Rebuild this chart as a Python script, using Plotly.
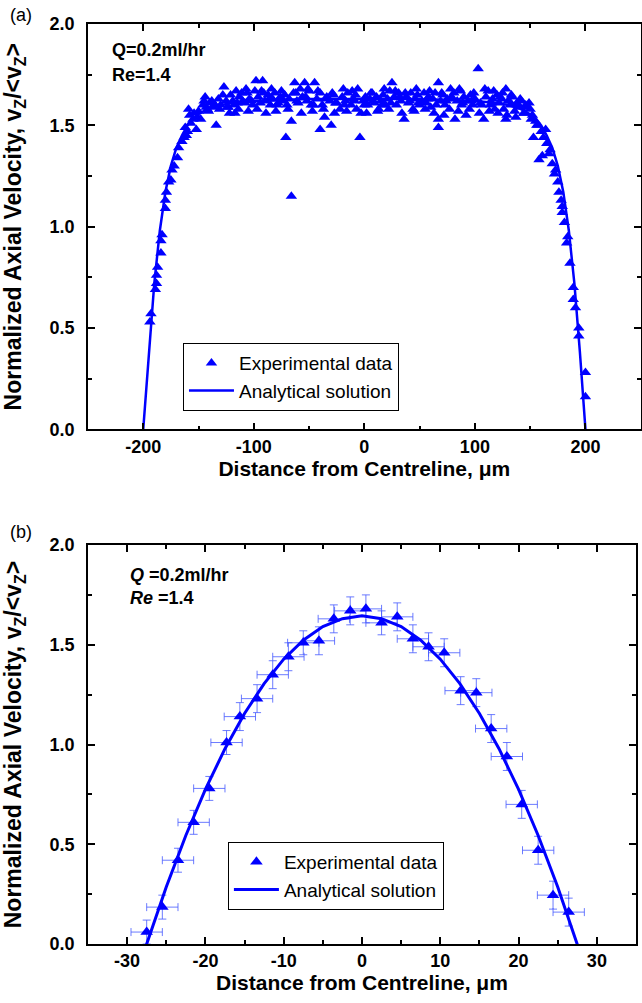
import plotly.graph_objects as go

# ---- panel (a): Q=0.2ml/hr, full channel ----
a_exp_x = [-194, -193, -189, -188, -188, -187, -184, -184, -183, -180, -180, -179, -177, -175, -174, -172,
           -169, -168, -165, -163, -162, -160, -157, -158, -152, -155, -148, -150, -159, -146, -144, -142,
           -140, -138, -134, -135, -132, -130, -127, -125, -123, -121, -119, -117, -115, -113, -110, -108,
           -106, -104, -101, -98, -96, -93, -92, -90, -87, -85, -83, -81, -78, -76, -73, -71, -70, -68,
           -66, -66, -64, -63, -61, -58, -56, -54, -52, -50, -48, -45, -43, -40, -40, -38, -36, -34,
           -31, -30, -28, -25, -22, -20, -17, -15, -12, -10, -8, -6, -4, -3, -1, 1, 3, 5, 7, 9, 11, 13,
           15, 17, 19, 21, 23, 25, 27, 29, 31, 33, 36, 38, 40, 42, 44, 46, 48, 50, 52, 54, 56, 58, 60,
           62, 64, 67, 67, 67, 69, 71, 73, 75, 77, 79, 82, 84, 86, 88, 90, 92, 94, 96, 98, 100, 103,
           105, 108, 110, 112, 114, 116, 118, 120, 122, 124, 126, 128, 128, 130, 132, 134, 136, 138,
           140, 142, 144, 146, 149, 150, 152, 153, 155, 157, 158, 160, 161, 162, 164, 165, 167, 168,
           170, 172, 173, 175, 176, 178, 179, 179, 181, 183, 184, 186, 189, 189, 191, 194, 194, 200, 200,
           -145, -137, -128, -118, -111, -102, -94, -86, -79, -72, -60, -53, -46, -35, -26, -18, -9, 0,
           8, 16, 24, 32, 41, 49, 57, 65, 74, 81, 89, 97, 106, 115, 123, 131, 139, 147, -154, -161,
           -141, -131, -122, -114, -105, -97, -89, -80, -69, -57, -47, -37, -27, -16, -7, 2, 12, 22,
           34, 45, 55, 63, 72, 85, 95, 104, 113, 121, 129, 137, 145, 151, -151, -143, -136, -124,
           -116, -107, -99, -91, -84, -75, -62, -51, -42, -29, -19, -11, 6, 18, 28, 37, 47, 59, 70, 78,
           87, 99, 109, 117, 125, 133, 141, 156]
a_exp_y = [0.53, 0.57, 0.69, 0.72, 0.76, 0.80, 0.87, 0.93, 0.96, 1.09, 1.13, 1.17, 1.22, 1.23, 1.28, 1.30,
           1.34, 1.39, 1.42, 1.44, 1.49, 1.47, 1.51, 1.55, 1.48, 1.53, 1.53, 1.57, 1.58, 1.60, 1.64, 1.58,
           1.61, 1.62, 1.50, 1.60, 1.63, 1.60, 1.69, 1.62, 1.59, 1.65, 1.62, 1.56, 1.61, 1.64, 1.62, 1.61,
           1.66, 1.63, 1.60, 1.72, 1.64, 1.67, 1.72, 1.62, 1.65, 1.60, 1.63, 1.66, 1.61, 1.64, 1.62, 1.44, 1.60, 1.63,
           1.52, 1.15, 1.66, 1.71, 1.62, 1.68, 1.64, 1.71, 1.62, 1.67, 1.60, 1.71, 1.63, 1.48, 1.66, 1.60, 1.54, 1.64,
           1.62, 1.50, 1.65, 1.61, 1.58, 1.64, 1.62, 1.66, 1.60, 1.63, 1.65, 1.68, 1.44, 1.56, 1.62, 1.64, 1.60, 1.63, 1.66, 1.61, 1.64, 1.58,
           1.62, 1.65, 1.60, 1.63, 1.67, 1.71, 1.64, 1.60, 1.66, 1.62, 1.53, 1.64, 1.61, 1.66, 1.58, 1.63, 1.65, 1.60, 1.62, 1.66, 1.61, 1.64, 1.59,
           1.63, 1.66, 1.71, 1.53, 1.49, 1.62, 1.65, 1.60, 1.63, 1.58, 1.64, 1.53, 1.62, 1.68, 1.60, 1.64, 1.55, 1.62, 1.65, 1.60, 1.63, 1.78,
           1.61, 1.53, 1.64, 1.67, 1.60, 1.63, 1.58, 1.65, 1.61, 1.63, 1.58, 1.68, 1.53, 1.62, 1.60, 1.64, 1.57, 1.61,
           1.59, 1.62, 1.56, 1.60, 1.61, 1.58, 1.55, 1.44, 1.52, 1.50, 1.33, 1.47, 1.35, 1.44, 1.48, 1.41, 1.36, 1.38,
           1.31, 1.26, 1.28, 1.22, 1.17, 1.13, 1.10, 1.07, 1.02, 0.92, 0.95, 0.82, 0.70, 0.64, 0.60, 0.50, 0.46, 0.28, 0.16,
           1.62, 1.59, 1.65, 1.60, 1.66, 1.62, 1.61, 1.63, 1.60, 1.65, 1.61, 1.64, 1.60, 1.63, 1.61, 1.60, 1.62, 1.60,
           1.62, 1.60, 1.61, 1.64, 1.62, 1.61, 1.63, 1.60, 1.62, 1.66, 1.61, 1.62, 1.60, 1.61, 1.64, 1.62, 1.60, 1.59, 1.56, 1.45,
           1.57, 1.58, 1.56, 1.58, 1.57, 1.58, 1.56, 1.57, 1.58, 1.56, 1.57, 1.58, 1.56, 1.57, 1.58, 1.56, 1.57, 1.58,
           1.56, 1.57, 1.58, 1.56, 1.55, 1.57, 1.58, 1.56, 1.57, 1.56, 1.55, 1.54, 1.56, 1.53, 1.54, 1.59, 1.60, 1.59,
           1.67, 1.68, 1.67, 1.66, 1.68, 1.67, 1.66, 1.68, 1.67, 1.66, 1.68, 1.67, 1.66, 1.68, 1.67, 1.66, 1.68, 1.67, 1.66, 1.68,
           1.67, 1.66, 1.68, 1.67, 1.66, 1.65, 1.63, 1.50]
a_fit_x = [-200, -195, -190, -185, -180, -175, -170, -165, -160, -155, -150, -140, -130, -120, -100, -80, -50,
           0, 50, 80, 100, 120, 130, 140, 150, 155, 160, 165, 170, 175, 180, 185, 190, 195, 200]
a_fit_y = [0.0, 0.38, 0.72, 0.98, 1.17, 1.30, 1.39, 1.45, 1.50, 1.53, 1.555, 1.585, 1.60, 1.61, 1.62, 1.625, 1.63,
           1.63, 1.63, 1.625, 1.62, 1.61, 1.60, 1.585, 1.555, 1.53, 1.50, 1.45, 1.39, 1.30, 1.17, 0.98, 0.72, 0.38, 0.0]
a_xticks = [-200, -100, 0, 100, 200]
a_xtick_labels = ['-200', '-100', '0', '100', '200']

# ---- panel (b): Q=0.2ml/hr, with error bars ----
b_exp_x = [-27.5, -25.5, -23.5, -21.5, -19.5, -17.3, -15.6, -13.4, -11.4, -9.4, -7.5, -5.5, -3.6, -1.5,
           0.5, 2.5, 4.5, 6.5, 8.5, 10.5, 12.6, 14.6, 16.5, 18.5, 20.4, 22.5, 24.4, 26.4]
b_exp_y = [0.06, 0.185, 0.42, 0.61, 0.78, 1.01, 1.14, 1.23, 1.35, 1.44, 1.51, 1.52, 1.63, 1.67,
           1.68, 1.61, 1.64, 1.53, 1.49, 1.46, 1.27, 1.26, 1.08, 0.94, 0.70, 0.47, 0.245, 0.16]
b_err_x = [2.0, 2.0, 2.0, 2.0, 2.0, 2.0, 2.0, 2.0, 2.0, 2.0, 2.0, 2.0, 2.0, 2.0,
           2.0, 2.0, 2.0, 2.0, 2.0, 2.0, 2.0, 2.0, 2.0, 2.0, 2.0, 2.0, 2.0, 2.0]
b_err_y = [0.06, 0.06, 0.06, 0.06, 0.06, 0.06, 0.07, 0.07, 0.07, 0.07, 0.06, 0.07, 0.07, 0.07,
           0.07, 0.06, 0.07, 0.07, 0.07, 0.07, 0.07, 0.07, 0.07, 0.07, 0.07, 0.07, 0.07, 0.07]
b_fit_x = [-28, -27.5, -25, -22.5, -20, -17.5, -15, -12.5, -10, -7.5, -5, -2.5, 0,
           2.5, 5, 7.5, 10, 12.5, 15, 17.5, 20, 22.5, 25, 27.5, 28]
b_fit_y = [-0.06, 0.0, 0.286, 0.544, 0.775, 0.979, 1.156, 1.305, 1.428, 1.523, 1.591, 1.631, 1.645,
           1.631, 1.591, 1.523, 1.428, 1.305, 1.156, 0.979, 0.775, 0.544, 0.286, 0.0, -0.06]
b_xticks = [-30, -20, -10, 0, 10, 20, 30]
b_xtick_labels = ['-30', '-20', '-10', '0', '10', '20', '30']

y_ticks = [0, 0.5, 1.0, 1.5, 2.0]
y_tick_labels = ['0.0', '0.5', '1.0', '1.5', '2.0']

blue = '#0000ff'
font = 'Arial, Liberation Sans, sans-serif'
ytitle = '<b>Normalized Axial Velocity, v<sub>Z</sub>/&lt;v<sub>Z</sub>&gt;</b>'
xtitle = '<b>Distance from Centreline, \u03bcm</b>'


def bold(labels):
    return ['<b>%s</b>' % t for t in labels]


fig = go.Figure()

fig.add_trace(go.Scatter(x=a_exp_x, y=a_exp_y, mode='markers', name='Experimental data',
                         marker=dict(symbol='triangle-up', size=10, color=blue),
                         xaxis='x', yaxis='y', legend='legend'))
fig.add_trace(go.Scatter(x=a_fit_x, y=a_fit_y, mode='lines', name='Analytical solution',
                         line=dict(color=blue, width=2.5),
                         xaxis='x', yaxis='y', legend='legend'))

fig.add_trace(go.Scatter(x=b_exp_x, y=b_exp_y, mode='markers', name='Experimental data',
                         marker=dict(symbol='triangle-up', size=11, color=blue),
                         error_x=dict(type='data', array=b_err_x, color='rgba(70,90,255,0.8)', thickness=1, width=4),
                         error_y=dict(type='data', array=b_err_y, color='rgba(70,90,255,0.8)', thickness=1, width=4),
                         xaxis='x2', yaxis='y2', legend='legend2'))
fig.add_trace(go.Scatter(x=b_fit_x, y=b_fit_y, mode='lines', name='Analytical solution',
                         line=dict(color=blue, width=3),
                         xaxis='x2', yaxis='y2', legend='legend2'))

axis_common = dict(showline=True, linecolor='black', linewidth=1.5, mirror='ticks',
                   ticks='inside', ticklen=7, tickwidth=1.5, tickcolor='black',
                   showgrid=False, zeroline=False, automargin=False,
                   tickfont=dict(family=font, size=18, color='black'))
ytitle_font = dict(family=font, size=23, color='black')
xtitle_font = dict(family=font, size=21, color='black')

fig.update_layout(
    width=642, height=1003,
    margin=dict(l=0, r=0, t=0, b=0),
    plot_bgcolor='white', paper_bgcolor='white',
    font=dict(family=font, color='black'),
    xaxis=dict(domain=[0.137, 0.998], anchor='y', range=[-250, 250],
               tickvals=a_xticks, ticktext=bold(a_xtick_labels),
               minor=dict(dtick=50, ticklen=4, tickwidth=1.5, ticks='inside', tickcolor='black'),
               title=dict(text=xtitle, font=xtitle_font, standoff=4), **axis_common),
    yaxis=dict(domain=[0.572, 0.976], anchor='x', range=[0, 2],
               tickvals=y_ticks, ticktext=bold(y_tick_labels), ticklabelstandoff=8,
               minor=dict(dtick=0.25, ticklen=4, tickwidth=1.5, ticks='inside', tickcolor='black'),
               title=dict(text=ytitle, font=ytitle_font, standoff=22), **axis_common),
    xaxis2=dict(domain=[0.137, 0.9907], anchor='y2', range=[-35, 35],
                tickvals=b_xticks, ticktext=bold(b_xtick_labels),
                minor=dict(dtick=5, ticklen=4, tickwidth=1.5, ticks='inside', tickcolor='black'),
                title=dict(text=xtitle, font=xtitle_font, standoff=4), **axis_common),
    yaxis2=dict(domain=[0.0588, 0.4566], anchor='x2', range=[0, 2],
                tickvals=y_ticks, ticktext=bold(y_tick_labels), ticklabelstandoff=8,
                minor=dict(dtick=0.25, ticklen=4, tickwidth=1.5, ticks='inside', tickcolor='black'),
                title=dict(text=ytitle, font=ytitle_font, standoff=22), **axis_common),
    legend=dict(x=0.285, y=0.658, xanchor='left', yanchor='top', bordercolor='black', borderwidth=1,
                bgcolor='white', font=dict(family=font, size=19), tracegroupgap=0, itemwidth=45),
    legend2=dict(x=0.355, y=0.1605, xanchor='left', yanchor='top', bordercolor='black', borderwidth=1,
                 bgcolor='white', font=dict(family=font, size=19), tracegroupgap=0, itemwidth=45),
    showlegend=True,
)

ann = [
    dict(text='(a)', x=0.012, y=1 - 15 / 1003),
    dict(text='(b)', x=0.012, y=1 - 532 / 1003),
    dict(text='<b>Q=0.2ml/hr</b>', x=110 / 642, y=1 - 50 / 1003),
    dict(text='<b>Re=1.4</b>', x=110 / 642, y=1 - 75 / 1003),
    dict(text='<b><i>Q</i> =0.2ml/hr</b>', x=128 / 642, y=1 - 575 / 1003),
    dict(text='<b><i>Re</i> =1.4</b>', x=128 / 642, y=1 - 598 / 1003),
]
for a in ann:
    fig.add_annotation(text=a['text'], x=a['x'], y=a['y'], xref='paper', yref='paper', showarrow=False,
                       xanchor='left', yanchor='middle', font=dict(size=18, family=font, color='black'))

# drop the default page margin so the figure sits at the window's corner
fig.write_html('out.html', config={'displayModeBar': False},
               post_script="document.body.style.margin='0px';")
